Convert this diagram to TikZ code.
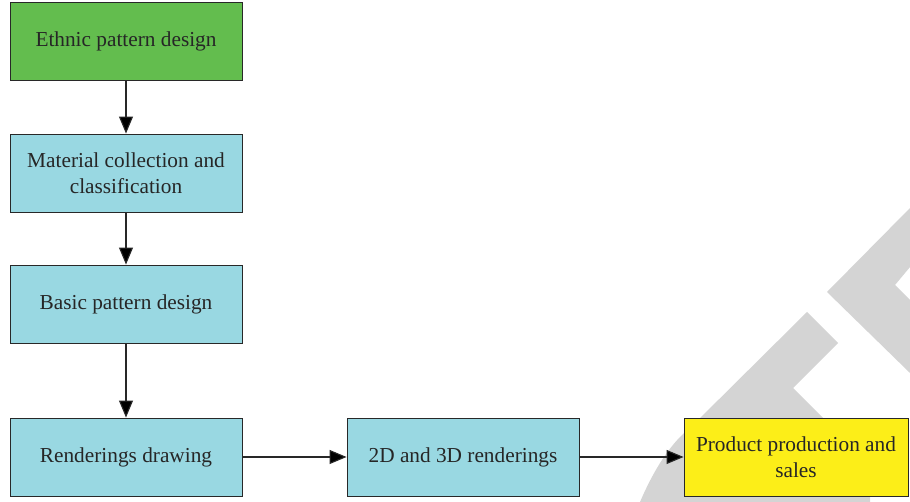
\documentclass[tikz,border=0pt]{standalone}
\usepackage{fontspec}
\setmainfont{Liberation Serif}
\usetikzlibrary{shapes,arrows.meta}

\definecolor{stepgreen}{RGB}{99,189,78}
\definecolor{stepcyan}{RGB}{153,216,226}
\definecolor{stepyellow}{RGB}{252,238,24}
\definecolor{markgray}{RGB}{212,212,212}
\definecolor{edgegray}{RGB}{40,40,40}

\begin{document}
\begin{tikzpicture}[x=1pt,y=1pt,
  stepbox/.style={shape=rectangle,draw=edgegray,line width=0.9pt,align=center,
    minimum width=232pt,minimum height=78pt,inner sep=2pt,
    font=\fontsize{21.3}{26}\selectfont,text=black!85},
  flow/.style={-{Triangle[length=17pt,width=14pt]},draw=edgegray,line width=1.1pt}]
\useasboundingbox (0,0) rectangle (910,502);
% watermark
\fill[markgray] (827,210) -- (910,294) -- (910,235) -- (895,217) -- (910,202) -- (910,129) -- cycle;
\fill[markgray] (807,190) -- (838,159) -- (793,114) -- (870,37) -- (870,0) -- (640,0)
  .. controls (655,35) and (672,60) .. (690,74) -- cycle;

\node[stepbox,fill=stepgreen] (0) at (126,461) {Ethnic pattern design};
\node[stepbox,fill=stepcyan] (1) at (126,329) {Material collection and\\classification};
\node[stepbox,fill=stepcyan] (2) at (126,198) {Basic pattern design};
\node[stepbox,fill=stepcyan] (3) at (126,45) {Renderings drawing};
\node[stepbox,fill=stepcyan] (4) at (463,45) {2D and 3D renderings};
\node[stepbox,fill=stepyellow,minimum width=224pt] (5) at (796,45) {Product production and\\sales};

\path [flow] (0) edge node {} (1);
\path [flow] (1) edge node {} (2);
\path [flow] (2) edge node {} (3);
\path [flow] (3) edge node {} (4);
\path [flow] (4) edge node {} (5);
\end{tikzpicture}
\end{document}
